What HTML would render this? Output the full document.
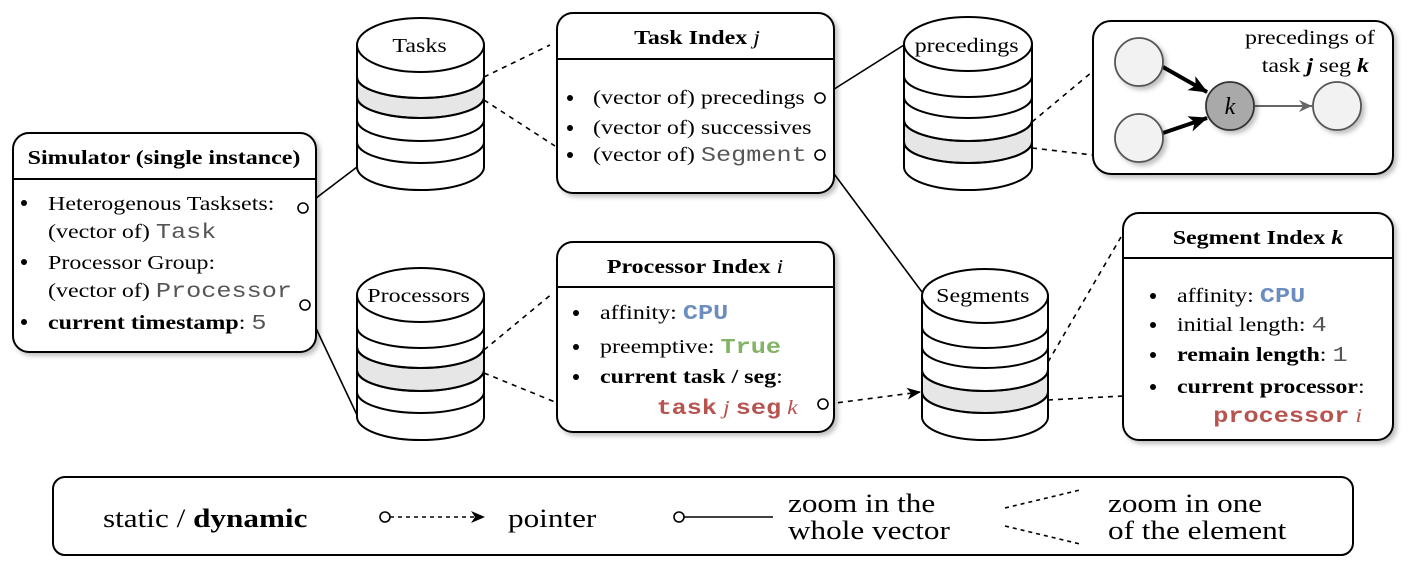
<!DOCTYPE html>
<html><head><meta charset="utf-8"><style>
body{margin:0;background:#fff;}
svg{display:block;font-family:"Liberation Serif",serif;}
.m{font-family:"Liberation Mono",monospace;font-size:21px;}
text{transform-box:fill-box;transform-origin:0 50%;transform:scaleX(1.2);}
text[text-anchor=middle]{transform-origin:50% 50%;}
text[text-anchor=end]{transform-origin:100% 50%;}
text.nk{transform:none;}
</style></head><body>
<svg width="1410" height="562" viewBox="0 0 1410 562" xmlns="http://www.w3.org/2000/svg">
<defs>
<filter id="sh" x="-10%" y="-10%" width="130%" height="130%"><feDropShadow dx="3" dy="3" stdDeviation="2.5" flood-color="#000" flood-opacity="0.25"/></filter>
<marker id="ab" markerWidth="14" markerHeight="14" refX="13" refY="7" orient="auto" markerUnits="userSpaceOnUse"><path d="M0,1 L14,7 L0,13 L4,7 Z" fill="#000"/></marker>
<marker id="ag" markerWidth="14" markerHeight="14" refX="13" refY="7" orient="auto" markerUnits="userSpaceOnUse"><path d="M0,1 L13,7 L0,13 L4,7 Z" fill="#666"/></marker>
<marker id="abig" markerWidth="20" markerHeight="20" refX="18" refY="10" orient="auto" markerUnits="userSpaceOnUse"><path d="M0,2 L19,10 L0,18 L5,10 Z" fill="#000"/></marker>
</defs>
<g fill="none" stroke="#000" stroke-width="1.6">
<line x1="303" y1="208" x2="357" y2="167"/>
<line x1="305" y1="305" x2="357" y2="415"/>
<line x1="820" y1="98" x2="904" y2="45"/>
<line x1="820" y1="155" x2="922" y2="292"/>
<g stroke-dasharray="5,5">
<line x1="484" y1="77" x2="550" y2="45"/>
<line x1="484" y1="100" x2="555" y2="146"/>
<line x1="484" y1="350" x2="553" y2="293"/>
<line x1="484" y1="373" x2="555" y2="402"/>
<line x1="1032" y1="122" x2="1092" y2="72"/>
<line x1="1032" y1="148" x2="1093" y2="155"/>
<line x1="1048" y1="362" x2="1121" y2="237"/>
<line x1="1048" y1="400" x2="1123" y2="396"/>
<line x1="828" y1="404" x2="920" y2="392" marker-end="url(#ab)"/>
</g>
</g>

<!-- Simulator box -->
<g filter="url(#sh)"><rect x="13" y="133" width="303" height="219" rx="16" fill="#fff" stroke="#000" stroke-width="2"/></g>
<line x1="13" y1="179" x2="316" y2="179" stroke="#000" stroke-width="2"/>
<text x="164" y="164" text-anchor="middle" font-size="20" font-weight="bold">Simulator (single instance)</text>
<g font-size="20">
<circle cx="24" cy="203" r="3"/><text x="48" y="210">Heterogenous Tasksets:</text>
<text x="48" y="238">(vector of) <tspan class="m" fill="#555">Task</tspan></text>
<circle cx="24" cy="262" r="3"/><text x="48" y="269">Processor Group:</text>
<text x="48" y="297">(vector of) <tspan class="m" fill="#555">Processor</tspan></text>
<circle cx="24" cy="322" r="3"/><text x="48" y="329"><tspan font-weight="bold">current timestamp</tspan>: <tspan class="m" fill="#555">5</tspan></text>
</g>
<circle cx="303" cy="208" r="5" fill="#fff" stroke="#000" stroke-width="1.6"/>
<circle cx="305" cy="305" r="5" fill="#fff" stroke="#000" stroke-width="1.6"/>

<!-- Task Index -->
<g filter="url(#sh)"><rect x="557" y="13" width="277" height="180" rx="16" fill="#fff" stroke="#000" stroke-width="2"/></g>
<line x1="557" y1="59" x2="834" y2="59" stroke="#000" stroke-width="2"/>
<text x="697" y="44" text-anchor="middle" font-size="20" font-weight="bold">Task Index <tspan font-style="italic" font-weight="normal">j</tspan></text>
<g font-size="20">
<circle cx="570" cy="98" r="3"/><text x="593" y="104">(vector of) precedings</text>
<circle cx="570" cy="128" r="3"/><text x="593" y="134">(vector of) successives</text>
<circle cx="570" cy="155" r="3"/><text x="593" y="161">(vector of) <tspan class="m" fill="#555">Segment</tspan></text>
</g>
<circle cx="820" cy="98" r="5" fill="#fff" stroke="#000" stroke-width="1.6"/>
<circle cx="820" cy="155" r="5" fill="#fff" stroke="#000" stroke-width="1.6"/>

<!-- Processor Index -->
<g filter="url(#sh)"><rect x="557" y="242" width="277" height="190" rx="16" fill="#fff" stroke="#000" stroke-width="2"/></g>
<line x1="557" y1="287" x2="834" y2="287" stroke="#000" stroke-width="2"/>
<text x="695" y="273" text-anchor="middle" font-size="20" font-weight="bold">Processor Index <tspan font-style="italic" font-weight="normal">i</tspan></text>
<g font-size="20">
<circle cx="576" cy="313" r="3"/><text x="600" y="319">affinity: <tspan class="m" font-weight="bold" fill="#6c8ebf">CPU</tspan></text>
<circle cx="576" cy="347" r="3"/><text x="600" y="353">preemptive: <tspan class="m" font-weight="bold" fill="#82b366">True</tspan></text>
<circle cx="576" cy="377" r="3"/><text x="600" y="383" font-weight="bold">current task / seg<tspan font-weight="normal">:</tspan></text>
<text x="798" y="414" text-anchor="end" fill="#b85450"><tspan class="m" font-weight="bold">task</tspan> <tspan font-style="italic">j</tspan> <tspan class="m" font-weight="bold">seg</tspan> <tspan font-style="italic">k</tspan></text>
</g>
<circle cx="823" cy="404" r="5" fill="#fff" stroke="#000" stroke-width="1.6"/>

<!-- Segment Index -->
<g filter="url(#sh)"><rect x="1123" y="213" width="270" height="227" rx="16" fill="#fff" stroke="#000" stroke-width="2"/></g>
<line x1="1123" y1="258" x2="1393" y2="258" stroke="#000" stroke-width="2"/>
<text x="1258" y="244" text-anchor="middle" font-size="20" font-weight="bold">Segment Index <tspan font-style="italic">k</tspan></text>
<g font-size="20">
<circle cx="1153" cy="296" r="3"/><text x="1177" y="302">affinity: <tspan class="m" font-weight="bold" fill="#6c8ebf">CPU</tspan></text>
<circle cx="1153" cy="325" r="3"/><text x="1177" y="331">initial length: <tspan class="m" fill="#555">4</tspan></text>
<circle cx="1153" cy="355" r="3"/><text x="1177" y="361"><tspan font-weight="bold">remain length</tspan>: <tspan class="m" fill="#555">1</tspan></text>
<circle cx="1153" cy="387" r="3"/><text x="1177" y="393" font-weight="bold">current processor<tspan font-weight="normal">:</tspan></text>
<text x="1362" y="422" text-anchor="end" fill="#b85450"><tspan class="m" font-weight="bold">processor</tspan> <tspan font-style="italic">i</tspan></text>
</g>

<!-- Graph box -->
<g filter="url(#sh)"><rect x="1093" y="21" width="300" height="153" rx="18" fill="#fff" stroke="#000" stroke-width="2"/></g>
<text x="1375" y="44" text-anchor="end" font-size="20">precedings of</text>
<text x="1369" y="72" text-anchor="end" font-size="20">task <tspan font-style="italic" font-weight="bold">j</tspan> seg <tspan font-style="italic" font-weight="bold">k</tspan></text>
<line x1="1163" y1="67" x2="1207" y2="92" stroke="#000" stroke-width="4" marker-end="url(#abig)"/>
<line x1="1163" y1="133" x2="1207" y2="118" stroke="#000" stroke-width="4" marker-end="url(#abig)"/>
<line x1="1255" y1="106" x2="1312" y2="106" stroke="#666" stroke-width="2" marker-end="url(#ag)"/>
<g filter="url(#sh)" stroke="#555" stroke-width="1.8">
<circle cx="1139" cy="62" r="24" fill="#f2f2f2"/>
<circle cx="1139" cy="138" r="24" fill="#f2f2f2"/>
<circle cx="1230" cy="106" r="24" fill="#a9a9a9" stroke="#333"/>
<circle cx="1337" cy="106" r="24" fill="#f2f2f2"/>
</g>
<text class="nk" x="1230" y="114" text-anchor="middle" font-size="24" font-style="italic">k</text>

<!-- Cylinders -->
<g stroke="#000" stroke-width="2">
<path d="M357,45 L357,167 A63.5,23 0 0 0 484,167 L484,45 Z" fill="#fff"/>
<path d="M357,77 A63.5,21 0 0 0 484,77 L484,97 A63.5,21 0 0 1 357,97 Z" fill="#e6e6e6"/>
<path d="M357,77 A63.5,21 0 0 0 484,77 M357,97 A63.5,21 0 0 0 484,97 M357,120 A63.5,21 0 0 0 484,120 M357,142 A63.5,21 0 0 0 484,142" fill="none"/>
<ellipse cx="420.5" cy="45" rx="63.5" ry="27" fill="#fff"/>
<path d="M357,295 L357,417 A63.5,23 0 0 0 484,417 L484,295 Z" fill="#fff"/>
<path d="M357,347 A63.5,21 0 0 0 484,347 L484,370 A63.5,21 0 0 1 357,370 Z" fill="#e6e6e6"/>
<path d="M357,327 A63.5,21 0 0 0 484,327 M357,347 A63.5,21 0 0 0 484,347 M357,370 A63.5,21 0 0 0 484,370 M357,392 A63.5,21 0 0 0 484,392" fill="none"/>
<ellipse cx="420.5" cy="295" rx="63.5" ry="27" fill="#fff"/>
<path d="M904,44 L904,167 A64,23 0 0 0 1032,167 L1032,44 Z" fill="#fff"/>
<path d="M904,120 A64,21 0 0 0 1032,120 L1032,142 A64,21 0 0 1 904,142 Z" fill="#e6e6e6"/>
<path d="M904,76 A64,21 0 0 0 1032,76 M904,97 A64,21 0 0 0 1032,97 M904,120 A64,21 0 0 0 1032,120 M904,142 A64,21 0 0 0 1032,142" fill="none"/>
<ellipse cx="968" cy="44" rx="64" ry="27" fill="#fff"/>
<path d="M922,296 L922,417 A63,23 0 0 0 1048,417 L1048,296 Z" fill="#fff"/>
<path d="M922,370 A63,21 0 0 0 1048,370 L1048,392 A63,21 0 0 1 922,392 Z" fill="#e6e6e6"/>
<path d="M922,327 A63,21 0 0 0 1048,327 M922,347 A63,21 0 0 0 1048,347 M922,370 A63,21 0 0 0 1048,370 M922,392 A63,21 0 0 0 1048,392" fill="none"/>
<ellipse cx="985" cy="296" rx="63" ry="27" fill="#fff"/>
</g>
<g font-size="20" text-anchor="middle">
<text x="415" y="52">Tasks</text>
<text x="410" y="302">Processors</text>
<text x="958" y="52">precedings</text>
<text x="975" y="302">Segments</text>
</g>

<!-- Legend -->
<rect x="53" y="477" width="1300" height="78" rx="12" fill="#fff" stroke="#000" stroke-width="2"/>
<g font-size="26">
<text x="103" y="527">static / <tspan font-weight="bold">dynamic</tspan></text>
<text x="508" y="527">pointer</text>
<text x="788" y="512">zoom in the</text>
<text x="788" y="539">whole vector</text>
<text x="1108" y="512">zoom in one</text>
<text x="1108" y="539">of the element</text>
</g>
<g stroke="#000" stroke-width="1.6" fill="none">
<line x1="390" y1="517" x2="484" y2="517" stroke-dasharray="4,4" marker-end="url(#ab)"/>
<circle cx="385" cy="517" r="5" fill="#fff"/>
<line x1="684" y1="517" x2="773" y2="517"/>
<circle cx="679" cy="517" r="5" fill="#fff"/>
<line x1="1005" y1="508" x2="1080" y2="490" stroke-dasharray="4,4"/>
<line x1="1005" y1="526" x2="1080" y2="544" stroke-dasharray="4,4"/>
</g>
</svg>
</body></html>
